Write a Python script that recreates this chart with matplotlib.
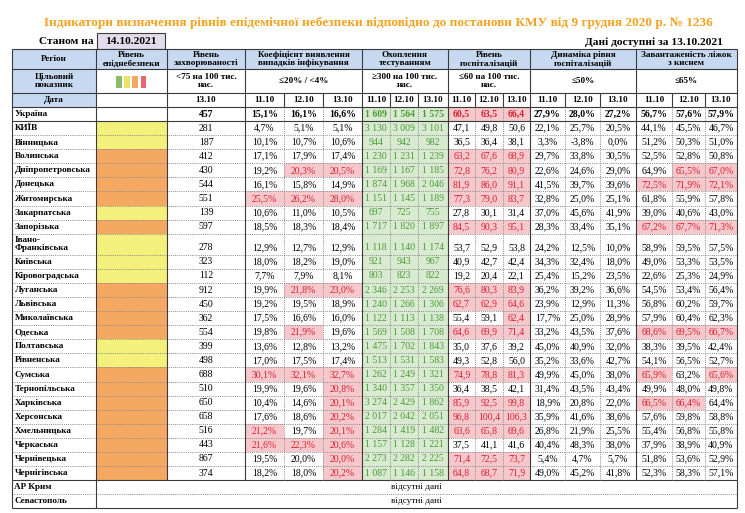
import matplotlib.pyplot as plt
from matplotlib.patches import Rectangle

plt.rcParams['font.family'] = ['Liberation Serif', 'DejaVu Serif']

# --- дані ---
title = ('Індикатори визначення рівнів епідемічної небезпеки відповідно '
         'до постанови КМУ від 9 грудня 2020 р. № 1236')
as_of = '14.10.2021'
data_date = '13.10.2021'
inc_date = '13.10'
dates = ['11.10', '12.10', '13.10']

regions = ['Україна', 'КИЇВ', 'Вінницька', 'Волинська', 'Дніпропетровська',
           'Донецька', 'Житомирська', 'Закарпатська', 'Запорізька',
           'Івано-\nФранківська', 'Київська', 'Кіровоградська', 'Луганська',
           'Львівська', 'Миколаївська', 'Одеська', 'Полтавська', 'Рівненська',
           'Сумська', 'Тернопільська', 'Харківська', 'Херсонська',
           'Хмельницька', 'Черкаська', 'Чернівецька', 'Чернігівська']

# рівень епіднебезпеки: y - жовтий, o - помаранчевий
level = ['', 'y', 'y', 'o', 'o', 'o', 'o', 'y', 'o', 'y', 'y', 'y', 'o',
         'o', 'o', 'o', 'y', 'y', 'o', 'o', 'o', 'o', 'o', 'o', 'o', 'o']

incidence = [457, 281, 187, 412, 430, 544, 551, 139, 597, 278, 323, 112, 912,
             450, 362, 554, 399, 498, 688, 510, 650, 658, 516, 443, 867, 374]

coef = [[15.1, 16.1, 16.6], [4.7, 5.1, 5.1], [10.1, 10.7, 10.6],
        [17.1, 17.9, 17.4], [19.2, 20.3, 20.5], [16.1, 15.8, 14.9],
        [25.5, 26.2, 28.0], [10.6, 11.0, 10.5], [18.5, 18.3, 18.4],
        [12.9, 12.7, 12.9], [18.0, 18.2, 19.0], [7.7, 7.9, 8.1],
        [19.9, 21.8, 23.0], [19.2, 19.5, 18.9], [17.5, 16.6, 16.0],
        [19.8, 21.9, 19.6], [13.6, 12.8, 13.2], [17.0, 17.5, 17.4],
        [30.1, 32.1, 32.7], [19.9, 19.6, 20.8], [10.4, 14.6, 20.1],
        [17.6, 18.6, 20.2], [21.2, 19.7, 20.1], [21.6, 22.3, 20.6],
        [19.5, 20.0, 20.0], [18.2, 18.0, 20.2]]
# перевищення порогу коефіцієнта (1 - так)
coef_flag = ['000', '000', '000', '000', '011', '000', '111', '000', '000',
             '000', '000', '000', '011', '000', '000', '010', '000', '000',
             '111', '001', '001', '001', '101', '111', '001', '001']

testing = [[1609, 1564, 1575], [3130, 3009, 3101], [944, 942, 982],
           [1230, 1231, 1239], [1169, 1167, 1185], [1874, 1968, 2046],
           [1151, 1145, 1189], [697, 725, 755], [1717, 1820, 1897],
           [1118, 1140, 1174], [921, 943, 967], [803, 823, 822],
           [2346, 2253, 2269], [1240, 1266, 1306], [1122, 1113, 1138],
           [1569, 1508, 1708], [1475, 1702, 1843], [1513, 1531, 1583],
           [1262, 1249, 1321], [1340, 1357, 1350], [3274, 2429, 1862],
           [2017, 2042, 2051], [1284, 1419, 1482], [1157, 1128, 1221],
           [2273, 2282, 2225], [1087, 1146, 1158]]

hosp = [[60.5, 63.5, 66.4], [47.1, 49.8, 50.6], [36.5, 36.4, 38.1],
        [63.2, 67.6, 68.9], [72.8, 76.2, 80.9], [81.9, 86.0, 91.1],
        [77.3, 79.0, 83.7], [27.8, 30.1, 31.4], [84.5, 90.3, 95.1],
        [53.7, 52.9, 53.8], [40.9, 42.7, 42.4], [19.2, 20.4, 22.1],
        [76.6, 80.3, 83.9], [62.7, 62.9, 64.6], [55.4, 59.1, 62.4],
        [64.6, 69.9, 71.4], [35.0, 37.6, 39.2], [49.3, 52.8, 56.0],
        [74.9, 78.8, 81.3], [36.4, 38.5, 42.1], [85.9, 92.5, 99.8],
        [96.8, 100.4, 106.3], [63.6, 65.8, 69.6], [37.5, 41.1, 41.6],
        [71.4, 72.5, 73.7], [64.8, 68.7, 71.9]]

hosp_dyn = [[27.9, 28.0, 27.2], [22.1, 25.7, 20.5], [3.3, -3.8, 0.0],
            [29.7, 33.8, 30.5], [22.6, 24.6, 29.0], [41.5, 39.7, 39.6],
            [32.8, 25.0, 25.1], [37.0, 45.6, 41.9], [28.3, 33.4, 35.1],
            [24.2, 12.5, 10.0], [34.3, 32.4, 18.0], [25.4, 15.2, 23.5],
            [36.2, 39.2, 36.6], [23.9, 12.9, 11.3], [17.7, 25.0, 28.9],
            [33.2, 43.5, 37.6], [45.0, 40.9, 32.0], [35.2, 33.6, 42.7],
            [49.9, 45.0, 38.0], [31.4, 43.5, 43.4], [18.9, 20.8, 22.0],
            [35.9, 41.6, 38.6], [26.8, 21.9, 25.5], [40.4, 48.3, 38.0],
            [5.4, 4.7, 5.7], [49.0, 45.2, 41.8]]

oxygen = [[56.7, 57.6, 57.9], [44.1, 45.5, 46.7], [51.2, 50.3, 51.0],
          [52.5, 52.8, 50.8], [64.9, 65.5, 67.0], [72.5, 71.9, 72.1],
          [61.8, 55.9, 57.8], [39.0, 40.6, 43.0], [67.2, 67.7, 71.3],
          [58.9, 59.5, 57.5], [49.0, 53.3, 53.5], [22.6, 25.3, 24.9],
          [54.5, 53.4, 56.4], [56.8, 60.2, 59.7], [57.9, 60.4, 62.3],
          [68.6, 69.5, 66.7], [38.3, 39.5, 42.4], [54.1, 56.5, 52.7],
          [65.9, 63.2, 65.6], [49.9, 48.0, 49.8], [66.5, 66.4, 64.4],
          [57.6, 59.8, 58.8], [55.4, 56.8, 55.8], [37.9, 38.9, 40.9],
          [51.8, 53.6, 52.9], [52.3, 58.3, 57.1]]

no_data_regions = ['АР Крим', 'Севастополь']
no_data_text = 'відсутні дані'

headers = ['Регіон', 'Рівень\nепіднебезпеки', 'Рівень\nзахворюваності',
           'Коефіцієнт виявлення\nвипадків інфікування', 'Охоплення\nтестуванням',
           'Рівень\nгоспіталізацій', 'Динаміка рівня\nгоспіталізацій',
           'Завантаженість ліжок\nз киснем']
targets = ['Цільовий\nпоказник', '', '<75 на 100 тис.\nнас.', '≤20% / <4%',
           '≥300 на 100 тис.\nнас.', '≤60 на 100 тис.\nнас.', '≤50%', '≤65%']
date_label = 'Дата'

# пороги
hosp_max = 60
oxygen_max = 65
testing_min = 300

# --- оформлення ---
BLUE = '#C6D9F1'
YELLOW = '#F3F07B'
ORANGE = '#F4A862'
RED_FILL = '#F6C8CC'
RED_TXT = '#D3202F'
GREEN_FILL = '#D8EAD0'
GREEN_TXT = '#4C9A38'
LINE = '#3A3A3A'
DOT = '#8A8A8A'
FS = 7
FS_HEAD = 6.6

xs = [12, 96, 167, 245, 284, 323, 362, 390, 418, 448, 475, 503, 530,
      565, 600, 636, 672, 705, 737]
group_edges = [0, 1, 2, 3, 6, 9, 12, 15, 18]   # індекси у xs
group_span = [(0, 1), (1, 2), (2, 3), (3, 6), (6, 9), (9, 12), (12, 15), (15, 18)]

fig = plt.figure(figsize=(7.45, 5.13), dpi=100)
ax = fig.add_axes([0, 0, 1, 1])
ax.set_xlim(0, 745)
ax.set_ylim(513, 0)
ax.axis('off')

rh = 14.08
y_head = (49, 69)
y_target = (69, 93)
y_date = (93, 107)
row_y = []
y = 107
for i, r in enumerate(regions):
    h = rh * 1.5 if '\n' in r else rh
    row_y.append((y, y + h))
    y += h
nd_y = []
for r in no_data_regions:
    nd_y.append((y, y + rh))
    y += rh
y_bottom = y


def put(x0, x1, y0, y1, s, fill=None, color='black', bold=False, ha='center',
        size=FS, bottom=False):
    if fill:
        ax.add_patch(Rectangle((x0, y0), x1 - x0, y1 - y0, facecolor=fill,
                               edgecolor='none', zorder=1))
    if s != '':
        tx = x0 + 2.5 if ha == 'left' else (x0 + x1) / 2
        ty = y1 - rh / 2 if bottom else (y0 + y1) / 2
        ax.text(tx, ty, s, ha=ha, va='center', color=color, fontsize=size,
                fontweight='bold' if bold else 'normal', linespacing=1.05,
                zorder=3)


def pct(v):
    return f'{v:.1f}%'.replace('.', ',')


def dec(v):
    return f'{v:.1f}'.replace('.', ',')


def thou(v):
    return f'{v:,}'.replace(',', ' ')


# заголовок
ax.text(378, 23, title, ha='center', va='center', color='#F5A21E',
        fontsize=9.55, fontweight='bold')
ax.text(94, 41.5, 'Станом на', ha='right', va='center', fontsize=8.2,
        fontweight='bold')
ax.add_patch(Rectangle((97, 33), 68, 16, facecolor='#E2DCEC', edgecolor=LINE,
                       lw=0.8, zorder=1))
ax.text(131, 41, as_of, ha='center', va='center', fontsize=8.2,
        fontweight='bold')
ax.text(723, 42, 'Дані доступні за ' + data_date, ha='right', va='center',
        fontsize=8.2, fontweight='bold')

# шапка
for (a, b), s in zip(group_span, headers):
    put(xs[a], xs[b], *y_head, s, fill=BLUE, bold=True, size=FS_HEAD)
for (a, b), s in zip(group_span, targets):
    put(xs[a], xs[b], *y_target, s, fill=BLUE if a == 0 else None, bold=True,
        size=FS_HEAD)
# піктограма рівнів
for k, c in enumerate(['#86C06A', '#E9E266', ORANGE, '#E36A6A']):
    ax.add_patch(Rectangle((116 + k * 8.2, 75.5), 5.6, 12, facecolor=c,
                           edgecolor='none', zorder=2))
put(xs[0], xs[1], *y_date, date_label, fill=BLUE, bold=True, size=FS_HEAD)
put(xs[2], xs[3], *y_date, inc_date, bold=True, size=FS_HEAD)
for g in range(5):
    for j, d in enumerate(dates):
        c = 3 + g * 3 + j
        put(xs[c], xs[c + 1], *y_date, d, bold=True, size=FS_HEAD)

# рядки даних
for i, r in enumerate(regions):
    y0, y1 = row_y[i]
    b = i == 0
    multi = '\n' in r
    put(xs[0], xs[1], y0, y1, r, bold=True, ha='left', size=FS_HEAD)
    put(xs[1], xs[2], y0, y1, '',
        fill={'y': YELLOW, 'o': ORANGE}.get(level[i]))
    put(xs[2], xs[3], y0, y1, str(incidence[i]), bold=b, bottom=multi)
    for j in range(3):
        red = coef_flag[i][j] == '1'
        put(xs[3 + j], xs[4 + j], y0, y1, pct(coef[i][j]), bold=b,
            fill=RED_FILL if red else None, color=RED_TXT if red else 'black',
            bottom=multi)
        ok = testing[i][j] >= testing_min
        put(xs[6 + j], xs[7 + j], y0, y1, thou(testing[i][j]), bold=b,
            fill=GREEN_FILL if ok else None,
            color=GREEN_TXT if ok else 'black', bottom=multi)
        red = hosp[i][j] > hosp_max
        put(xs[9 + j], xs[10 + j], y0, y1, dec(hosp[i][j]), bold=b,
            fill=RED_FILL if red else None, color=RED_TXT if red else 'black',
            bottom=multi)
        put(xs[12 + j], xs[13 + j], y0, y1, pct(hosp_dyn[i][j]), bold=b,
            bottom=multi)
        red = oxygen[i][j] > oxygen_max
        put(xs[15 + j], xs[16 + j], y0, y1, pct(oxygen[i][j]), bold=b,
            fill=RED_FILL if red else None, color=RED_TXT if red else 'black',
            bottom=multi)

for r, (y0, y1) in zip(no_data_regions, nd_y):
    put(xs[0], xs[1], y0, y1, r, bold=True, ha='left', size=FS_HEAD)
    put(xs[1], xs[-1], y0, y1, no_data_text, size=6.6)

# лінії сітки
solid = dict(colors=LINE, lw=0.8, zorder=4)
dotted = dict(colors=DOT, lw=0.7, linestyles=(0, (1, 1.2)), zorder=4)
x_l, x_r = xs[0], xs[-1]
for yy in [y_head[0], y_head[1], y_target[1], y_date[1], row_y[0][1],
           row_y[-1][1], y_bottom]:
    ax.hlines(yy, x_l, x_r, **solid)
for (y0, y1) in row_y[1:-1]:
    ax.hlines(y1, x_l, x_r, **dotted)
ax.hlines(nd_y[0][1], x_l, x_r, **dotted)

data_top, data_bot = y_date[1], row_y[-1][1]
for c in group_edges:
    ax.vlines(xs[c], y_head[0], data_bot, **solid)
ax.vlines([xs[0], xs[1], xs[-1]], data_bot, y_bottom, **solid)
inner = [c for c in range(3, 18) if c not in group_edges]
ax.vlines([xs[c] for c in inner], y_date[0], y_date[1], **solid)
ax.vlines([xs[c] for c in inner], data_top, data_bot, **dotted)

fig.savefig('out.png', dpi=100)
